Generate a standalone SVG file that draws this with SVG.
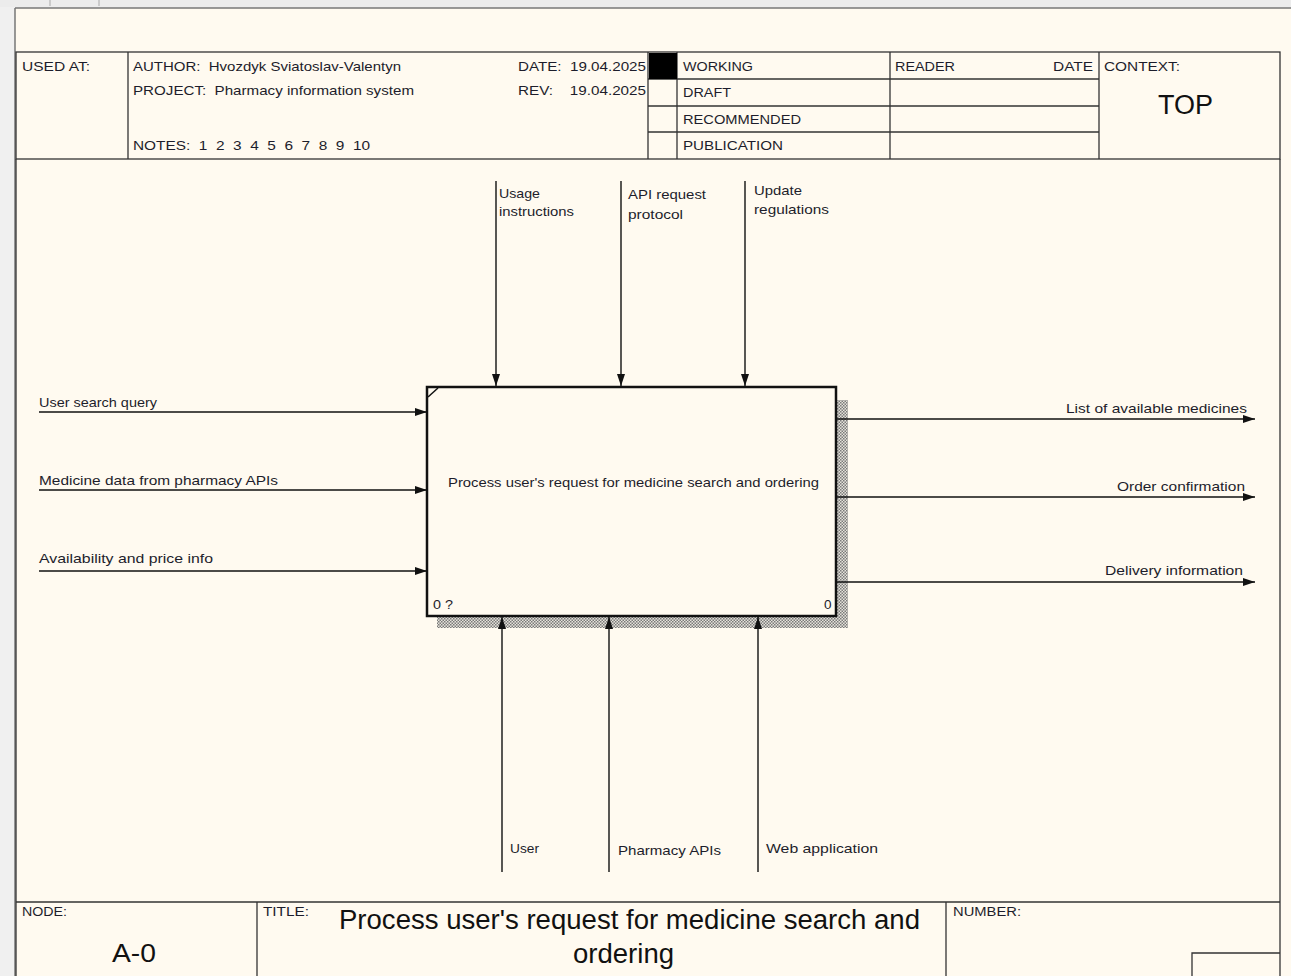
<svg xmlns="http://www.w3.org/2000/svg" width="1291" height="976" viewBox="0 0 1291 976">
<style>
.t{font-family:"Liberation Sans",Arial,sans-serif;font-size:13.5px;fill:#1d1d2b}
.h{font-family:"Liberation Sans",Arial,sans-serif;font-size:13.5px;fill:#1d1d2b}
.s{font-family:"Liberation Sans",Arial,sans-serif;font-size:12px;fill:#1d1d2b}
.big{font-family:"Liberation Sans",Arial,sans-serif;fill:#111}
.fr{stroke:#333;stroke-width:1.3;fill:none}
.ar{stroke:#111;stroke-width:1.4;fill:none;marker-end:url(#ah)}
</style>
<defs>
<marker id="ah" viewBox="0 0 12 8" refX="12" refY="4" markerWidth="12" markerHeight="8" markerUnits="userSpaceOnUse" orient="auto">
<path d="M0,0 L12,4 L0,8 Z" fill="#111"/>
</marker>
<pattern id="hatch" width="3" height="3" patternUnits="userSpaceOnUse">
<rect width="3" height="3" fill="#e6e3da"/>
<rect width="1.5" height="1.5" fill="#7a7a7a"/>
<rect x="1.5" y="1.5" width="1.5" height="1.5" fill="#7a7a7a"/>
</pattern>
</defs>
<rect width="1291" height="976" fill="#f0f0f0"/>
<rect x="0" y="0" width="1291" height="7" fill="#ececec"/>
<line x1="50" y1="0" x2="50" y2="6" stroke="#aaa"/>
<line x1="99" y1="0" x2="99" y2="6" stroke="#aaa"/>
<rect x="15" y="8" width="1276" height="968" fill="#fffaf0"/>
<line x1="15" y1="8" x2="1291" y2="8" stroke="#777" stroke-width="1.5"/>
<line x1="15" y1="8" x2="15" y2="976" stroke="#777" stroke-width="1.5"/>

<g id="header">
<rect x="16" y="52" width="1264" height="107" class="fr"/>
<line x1="128" y1="52" x2="128" y2="159" class="fr"/>
<line x1="648" y1="52" x2="648" y2="159" class="fr"/>
<line x1="677" y1="52" x2="677" y2="159" class="fr"/>
<line x1="890" y1="52" x2="890" y2="159" class="fr"/>
<line x1="1099" y1="52" x2="1099" y2="159" class="fr"/>
<line x1="648" y1="79" x2="1099" y2="79" class="fr"/>
<line x1="648" y1="106" x2="1099" y2="106" class="fr"/>
<line x1="648" y1="132" x2="1099" y2="132" class="fr"/>
<rect x="649" y="53" width="28" height="26" fill="#000"/>
<text x="22" y="71" class="h" textLength="68" lengthAdjust="spacingAndGlyphs">USED AT:</text>
<text x="133" y="71" class="h" textLength="268" lengthAdjust="spacingAndGlyphs" xml:space="preserve">AUTHOR:  Hvozdyk Sviatoslav-Valentyn</text>
<text x="133" y="95" class="h" textLength="281" lengthAdjust="spacingAndGlyphs" xml:space="preserve">PROJECT:  Pharmacy information system</text>
<text x="133" y="150" class="h" textLength="237" lengthAdjust="spacingAndGlyphs" xml:space="preserve">NOTES:  1  2  3  4  5  6  7  8  9  10</text>
<text x="518" y="71" class="h" textLength="128" lengthAdjust="spacingAndGlyphs" xml:space="preserve">DATE:  19.04.2025</text>
<text x="518" y="95" class="h" textLength="128" lengthAdjust="spacingAndGlyphs" xml:space="preserve">REV:    19.04.2025</text>
<text x="683" y="71" class="h" textLength="70" lengthAdjust="spacingAndGlyphs">WORKING</text>
<text x="683" y="97" class="h" textLength="48" lengthAdjust="spacingAndGlyphs">DRAFT</text>
<text x="683" y="124" class="h" textLength="118" lengthAdjust="spacingAndGlyphs">RECOMMENDED</text>
<text x="683" y="150" class="h" textLength="100" lengthAdjust="spacingAndGlyphs">PUBLICATION</text>
<text x="895" y="71" class="h" textLength="60" lengthAdjust="spacingAndGlyphs">READER</text>
<text x="1053" y="71" class="h" textLength="40" lengthAdjust="spacingAndGlyphs">DATE</text>
<text x="1104" y="71" class="h" textLength="76" lengthAdjust="spacingAndGlyphs">CONTEXT:</text>
<text x="1158" y="114" class="big" style="font-size:27px" textLength="55" lengthAdjust="spacingAndGlyphs">TOP</text>
</g>

<g id="frame">
<line x1="1280" y1="159" x2="1280" y2="976" class="fr"/>
<line x1="16" y1="159" x2="16" y2="976" class="fr"/>
</g>

<g id="node-A0">
<rect x="837" y="400" width="11" height="228" fill="url(#hatch)"/>
<rect x="437" y="616" width="411" height="12" fill="url(#hatch)"/>
<rect x="427" y="387" width="409" height="229" fill="#fffaf0" stroke="#111" stroke-width="2.5"/>
<line x1="428" y1="397" x2="438" y2="388" stroke="#111" stroke-width="1.5"/>
<text x="448" y="487" class="t" textLength="371" lengthAdjust="spacingAndGlyphs">Process user's request for medicine search and ordering</text>
<text x="433" y="609" class="t" textLength="20" lengthAdjust="spacingAndGlyphs">0 ?</text>
<text x="824" y="609" class="t">0</text>
</g>

<g id="connectors">
<line x1="39" y1="412" x2="427" y2="412" class="ar"/>
<line x1="39" y1="490" x2="427" y2="490" class="ar"/>
<line x1="39" y1="571" x2="427" y2="571" class="ar"/>
<line x1="837" y1="419" x2="1255" y2="419" class="ar"/>
<line x1="837" y1="497" x2="1255" y2="497" class="ar"/>
<line x1="837" y1="582" x2="1255" y2="582" class="ar"/>
<line x1="496" y1="181" x2="496" y2="386" class="ar"/>
<line x1="621" y1="181" x2="621" y2="386" class="ar"/>
<line x1="745" y1="181" x2="745" y2="386" class="ar"/>
<line x1="502" y1="872" x2="502" y2="617" class="ar"/>
<line x1="609" y1="872" x2="609" y2="617" class="ar"/>
<line x1="758" y1="872" x2="758" y2="617" class="ar"/>
</g>

<g id="labels">
<text x="39" y="407" class="t" textLength="118" lengthAdjust="spacingAndGlyphs">User search query</text>
<text x="39" y="485" class="t" textLength="239" lengthAdjust="spacingAndGlyphs">Medicine data from pharmacy APIs</text>
<text x="39" y="563" class="t" textLength="174" lengthAdjust="spacingAndGlyphs">Availability and price info</text>
<text x="1066" y="413" class="t" textLength="181" lengthAdjust="spacingAndGlyphs">List of available medicines</text>
<text x="1117" y="491" class="t" textLength="128" lengthAdjust="spacingAndGlyphs">Order confirmation</text>
<text x="1105" y="575" class="t" textLength="138" lengthAdjust="spacingAndGlyphs">Delivery information</text>
<text x="499" y="198" class="t" textLength="41" lengthAdjust="spacingAndGlyphs">Usage</text>
<text x="499" y="216" class="t" textLength="75" lengthAdjust="spacingAndGlyphs">instructions</text>
<text x="628" y="199" class="t" textLength="78" lengthAdjust="spacingAndGlyphs">API request</text>
<text x="628" y="219" class="t" textLength="55" lengthAdjust="spacingAndGlyphs">protocol</text>
<text x="754" y="195" class="t" textLength="48" lengthAdjust="spacingAndGlyphs">Update</text>
<text x="754" y="214" class="t" textLength="75" lengthAdjust="spacingAndGlyphs">regulations</text>
<text x="510" y="853" class="t" textLength="29" lengthAdjust="spacingAndGlyphs">User</text>
<text x="618" y="855" class="t" textLength="103" lengthAdjust="spacingAndGlyphs">Pharmacy APIs</text>
<text x="766" y="853" class="t" textLength="112" lengthAdjust="spacingAndGlyphs">Web application</text>
</g>

<g id="footer">
<line x1="16" y1="902" x2="1280" y2="902" class="fr"/>
<line x1="257" y1="902" x2="257" y2="976" class="fr"/>
<line x1="946" y1="902" x2="946" y2="976" class="fr"/>
<polyline points="1192,976 1192,953 1280,953" class="fr"/>
<text x="22" y="916" class="s" textLength="45" lengthAdjust="spacingAndGlyphs">NODE:</text>
<text x="263" y="916" class="s" textLength="46" lengthAdjust="spacingAndGlyphs">TITLE:</text>
<text x="953" y="916" class="s" textLength="68" lengthAdjust="spacingAndGlyphs">NUMBER:</text>
<text x="112" y="962" class="big" style="font-size:26px" textLength="44" lengthAdjust="spacingAndGlyphs">A-0</text>
<text x="339" y="929" class="big" style="font-size:27px" textLength="581" lengthAdjust="spacingAndGlyphs">Process user's request for medicine search and</text>
<text x="573" y="963" class="big" style="font-size:27px" textLength="101" lengthAdjust="spacingAndGlyphs">ordering</text>
</g>
</svg>
